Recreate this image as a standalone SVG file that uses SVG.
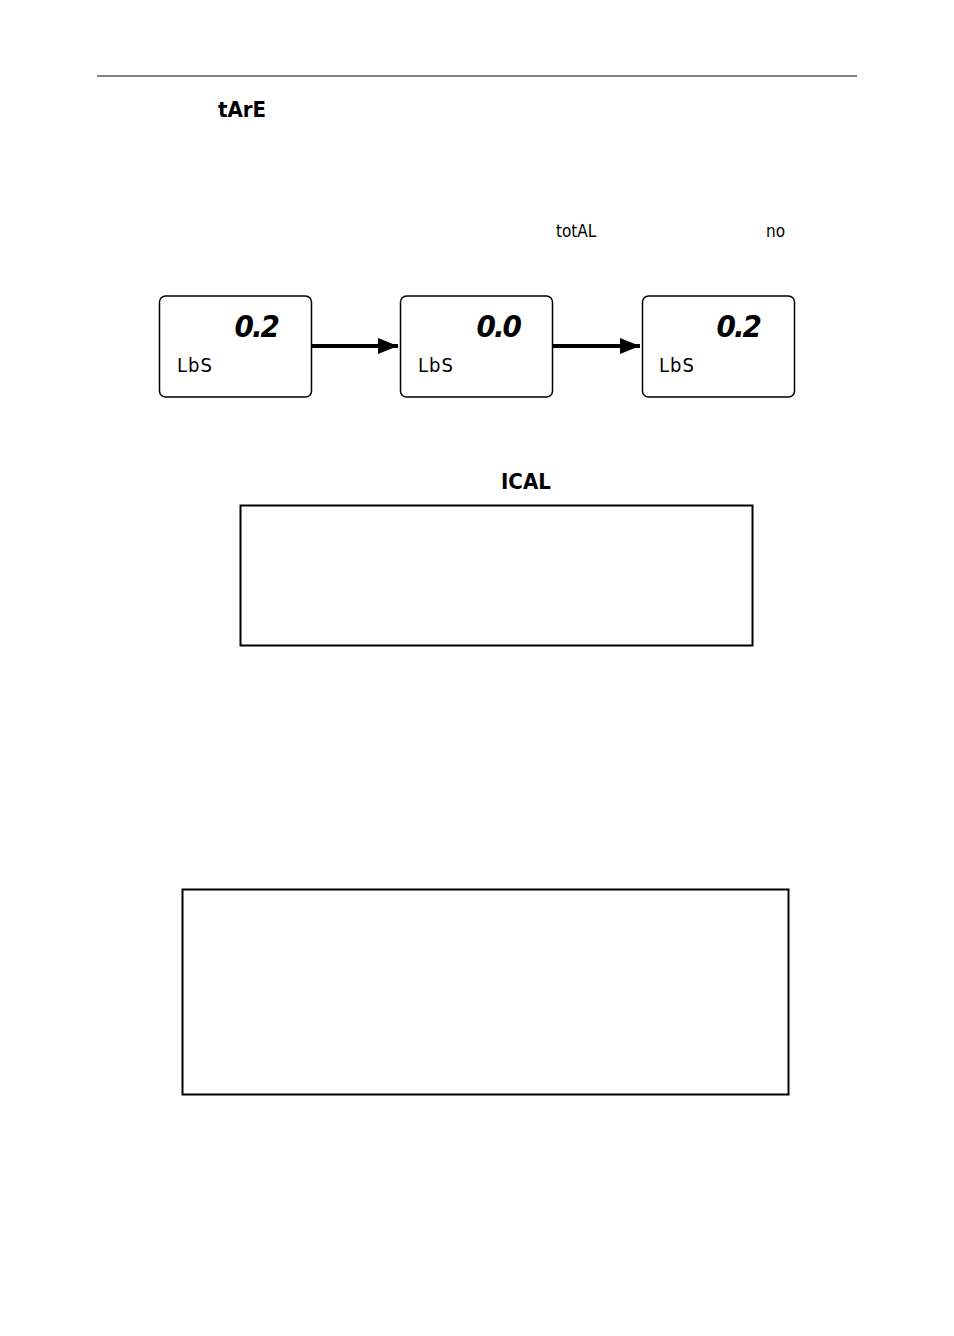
<svg xmlns="http://www.w3.org/2000/svg" width="954" height="1336" viewBox="0 0 954 1336">
<defs>
<style>
.seg{font-family:"DejaVu Sans Condensed","DejaVu Sans",sans-serif;fill:#000}
.big{font-size:31px;font-weight:bold;font-style:italic;text-anchor:end;letter-spacing:-2px}
.unit{font-size:20px;letter-spacing:1px}
.disp{fill:#fff;stroke:#000;stroke-width:1.5}
</style>
<marker id="ah" markerWidth="5" markerHeight="4" refX="5" refY="2" orient="auto"><path d="M0,0L5,2L0,4z" fill="#000"/></marker>
</defs>
<rect width="954" height="1336" fill="#fff"/>
<line x1="97" y1="76" x2="857" y2="76" stroke="#000" stroke-width="1"/>
<text class="seg" x="218" y="117" font-size="22" font-weight="bold">tArE</text>
<text class="seg" x="556" y="237" font-size="17">totAL</text>
<text class="seg" x="766" y="237" font-size="17">no</text>
<g id="d1"><rect class="disp" x="159.5" y="296" width="152" height="101" rx="6"/><text class="seg big" x="278" y="337">0.2</text><text class="seg unit" x="177" y="372">LbS</text></g>
<g id="d2"><rect class="disp" x="400.5" y="296" width="152" height="101" rx="6"/><text class="seg big" x="520" y="337">0.0</text><text class="seg unit" x="418" y="372">LbS</text></g>
<g id="d3"><rect class="disp" x="642.5" y="296" width="152" height="101" rx="6"/><text class="seg big" x="760" y="337">0.2</text><text class="seg unit" x="659" y="372">LbS</text></g>
<g id="connectors" stroke="#000" stroke-width="4">
<line x1="312" y1="346" x2="398" y2="346" marker-end="url(#ah)"/>
<line x1="553" y1="346" x2="640" y2="346" marker-end="url(#ah)"/>
</g>
<text class="seg" x="501" y="489" font-size="22" font-weight="bold">ICAL</text>
<rect x="240.5" y="505.5" width="512" height="140" fill="none" stroke="#000" stroke-width="2"/>
<rect x="182.5" y="889.5" width="606" height="205" fill="none" stroke="#000" stroke-width="2"/>
</svg>
